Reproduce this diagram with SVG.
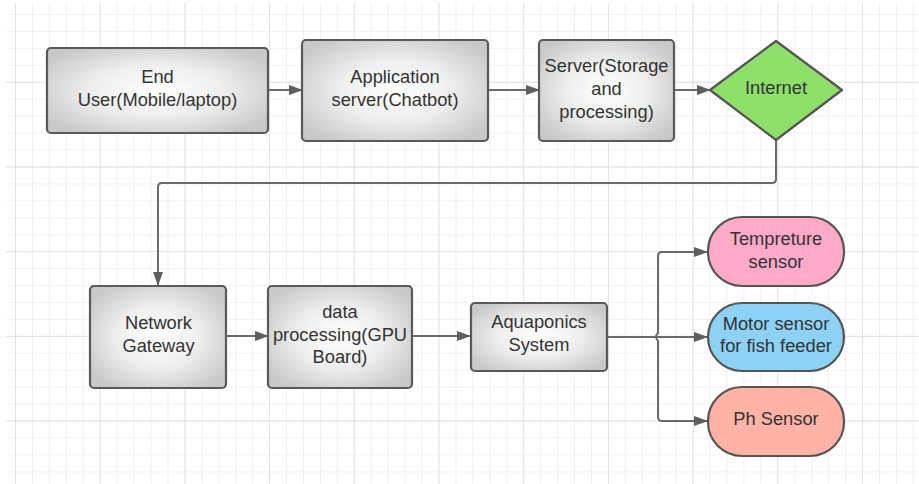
<svg xmlns="http://www.w3.org/2000/svg" width="919" height="484" viewBox="0 0 919 484">
<defs>
<pattern id="minor" x="15" y="14" width="16.94" height="16.94" patternUnits="userSpaceOnUse">
<path d="M0 0V16.94M0 0H16.94" fill="none" stroke="#e6e6e6" stroke-width="1.2"/>
</pattern>
<pattern id="major" x="15" y="81.8" width="84.7" height="84.7" patternUnits="userSpaceOnUse">
<path d="M0 0V84.7M0 0H84.7" fill="none" stroke="#dcdcdc" stroke-width="1.4"/>
</pattern>
<radialGradient id="gbox" cx="50%" cy="50%" r="60%">
<stop offset="0" stop-color="#ffffff"/>
<stop offset="0.5" stop-color="#eeeeee"/>
<stop offset="1" stop-color="#c9c9c9"/>
</radialGradient>
<marker id="arr" viewBox="0 0 14 10" refX="13" refY="5" markerWidth="14" markerHeight="10" markerUnits="userSpaceOnUse" orient="auto">
<path d="M0 0L14 5L0 10Z" fill="#5e5e5e"/>
</marker>
<style>
.box{fill:url(#gbox);stroke:#595959;stroke-width:2.2}
.t{font-family:"Liberation Sans",Arial,sans-serif;font-size:18.3px;fill:#333;text-anchor:middle}
.c{fill:none;stroke:#6a6a6a;stroke-width:2}
.s{stroke:#555;stroke-width:2.2}
</style>
</defs>
<rect x="0" y="0" width="919" height="484" fill="#fff"/>
<rect x="6" y="3" width="913" height="481" fill="url(#minor)"/>
<rect x="6" y="3" width="913" height="481" fill="url(#major)"/>

<g id="connectors">
<path class="c" d="M268 90H302" marker-end="url(#arr)"/>
<path class="c" d="M488 90H539" marker-end="url(#arr)"/>
<path class="c" d="M674 90H710" marker-end="url(#arr)"/>
<path class="c" d="M776 140V179Q776 183 772 183H162Q158 183 158 187V285" marker-end="url(#arr)"/>
<path class="c" d="M226 336H268" marker-end="url(#arr)"/>
<path class="c" d="M412 336H470" marker-end="url(#arr)"/>
<path class="c" d="M607 337H707" marker-end="url(#arr)"/>
<path class="c" d="M707 252H662Q658 252 658 256V333Q654 337 658 341V417Q658 421 662 421H707"/>
<path class="c" d="M680 252H707" marker-end="url(#arr)"/>
<path class="c" d="M680 421H707" marker-end="url(#arr)"/>
</g>

<g id="end-user">
<rect class="box" x="47" y="48" width="221" height="85" rx="4"/>
<text class="t" x="157.5" y="83">End</text>
<text class="t" x="157.5" y="106">User(Mobile/laptop)</text>
</g>
<g id="app-server">
<rect class="box" x="302" y="40" width="186" height="101" rx="4"/>
<text class="t" x="395" y="83">Application</text>
<text class="t" x="395" y="106">server(Chatbot)</text>
</g>
<g id="server">
<rect class="box" x="539" y="40" width="135" height="101" rx="4"/>
<text class="t" x="606.5" y="72">Server(Storage</text>
<text class="t" x="606.5" y="95">and</text>
<text class="t" x="606.5" y="118">processing)</text>
</g>
<g id="internet">
<path d="M776 41L842 90L776 140L710 90Z" fill="#8fdf6b" stroke="#555" stroke-width="2.2" stroke-linejoin="round"/>
<text class="t" x="776" y="94">Internet</text>
</g>
<g id="network-gateway">
<rect class="box" x="90" y="286" width="136" height="102" rx="4"/>
<text class="t" x="158.5" y="329">Network</text>
<text class="t" x="158.5" y="352">Gateway</text>
</g>
<g id="data-processing">
<rect class="box" x="268" y="286" width="144" height="102" rx="4"/>
<text class="t" x="340" y="318">data</text>
<text class="t" x="340" y="341">processing(GPU</text>
<text class="t" x="340" y="363">Board)</text>
</g>
<g id="aquaponics">
<rect class="box" x="471" y="303" width="136" height="68" rx="4"/>
<text class="t" x="539" y="328">Aquaponics</text>
<text class="t" x="539" y="351">System</text>
</g>
<g id="temperature-sensor">
<rect class="s" x="708" y="217" width="136" height="69" rx="34" fill="#ffaac9"/>
<text class="t" x="776" y="245">Tempreture</text>
<text class="t" x="776" y="268">sensor</text>
</g>
<g id="motor-sensor">
<rect class="s" x="708" y="303" width="136" height="68" rx="34" fill="#8dd1f5"/>
<text class="t" x="776" y="330">Motor sensor</text>
<text class="t" x="776" y="352">for fish feeder</text>
</g>
<g id="ph-sensor">
<rect class="s" x="708" y="387" width="136" height="69" rx="34" fill="#ffb3a6"/>
<text class="t" x="776" y="425">Ph Sensor</text>
</g>
</svg>
